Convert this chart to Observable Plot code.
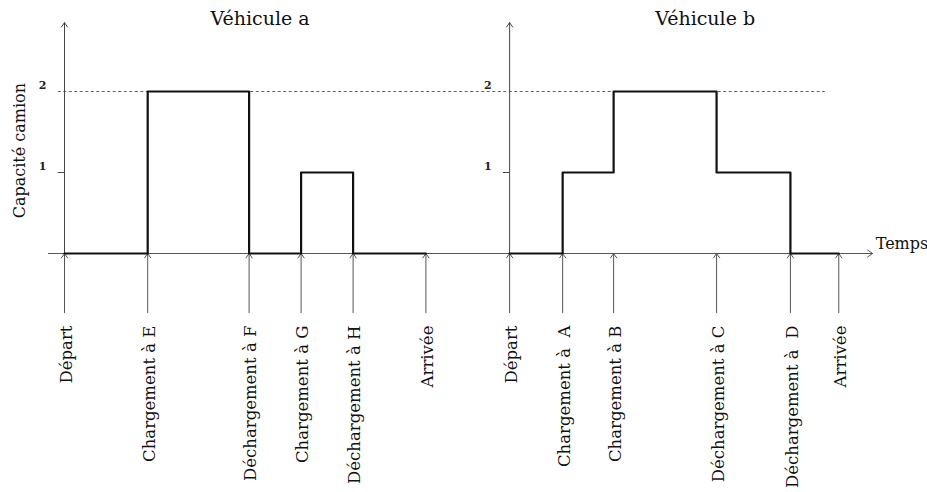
<!DOCTYPE html>
<html>
<head>
<meta charset="utf-8">
<script src="https://cdn.jsdelivr.net/npm/d3@7"></script>
<script src="https://cdn.jsdelivr.net/npm/@observablehq/plot@0.6"></script>
<style>
  html, body { margin: 0; padding: 0; background: #fff; }
  svg { display: block; }
</style>
</head>
<body>
<div id="chart"></div>
<script>
// ---- Data ----
const titles = ["Véhicule a", "Véhicule b"];
const vehANames = ["Départ", "Chargement à E", "Déchargement à F", "Chargement à G", "Déchargement à H", "Arrivée"];
const vehATimes = [0, 1.6, 3.55, 4.55, 5.55, 6.95];
const vehALoads = [0, 2, 0, 1, 0, 0];
const vehBNames = ["Départ", "Chargement à\u00a0 A", "Chargement à B", "Déchargement à C", "Déchargement à\u00a0 D", "Arrivée"];
const vehBTimes = [0, 1.02, 2.0, 3.98, 5.4, 6.33];
const vehBLoads = [0, 1, 2, 1, 0, 0];
const capacityTicks = [1, 2];
const capacityMax = 2;
const yLabel = "Capacité camion";
const xLabel = "Temps";

// ---- Layout constants (scale units) ----
const originB = 8.56;         // horizontal offset of the second diagram
const axisTop = 2.85;         // top of vertical axes
const eventTail = -0.73;      // start of event arrows (below baseline)
const labelTop = -0.89;       // top of rotated event labels
const xAxisStart = -0.31, xAxisEnd = 15.54;
const dashEnd = 14.63;

const vehicles = [
  {title: titles[0], origin: 0, names: vehANames, times: vehATimes, loads: vehALoads},
  {title: titles[1], origin: originB, names: vehBNames, times: vehBTimes, loads: vehBLoads}
];

const steps = vehicles.flatMap(v => v.times.map((t, i) => ({vehicle: v.title, x: v.origin + t, load: v.loads[i]})));
const events = vehicles.flatMap(v => v.times.map((t, i) => ({vehicle: v.title, x: v.origin + t, name: v.names[i]})));
const tickLabels = vehicles.flatMap(v => capacityTicks.map(k => ({x: v.origin, k})));

const font = "DejaVu Serif, serif";

const chart = Plot.plot({
  width: 927,
  height: 492,
  marginTop: 0, marginRight: 0, marginBottom: 0, marginLeft: 0,
  style: {fontFamily: font, background: "#fff", overflow: "visible"},
  x: {type: "linear", domain: [0, 1], range: [64, 116], axis: null},
  y: {type: "linear", domain: [0, 1], range: [253, 172], axis: null},
  marks: [
    // dashed capacity line
    Plot.ruleY([capacityMax], {x1: () => -0.12, x2: () => dashEnd, stroke: "#666", strokeWidth: 1, strokeDasharray: "3,2.5"}),
    // tick at 1
    Plot.ruleY(vehicles, {y: () => 1, x1: d => d.origin - 0.12, x2: d => d.origin, stroke: "#444", strokeWidth: 1}),
    // horizontal time axis
    Plot.arrow([xLabel], {x1: () => xAxisStart, x2: () => xAxisEnd, y1: () => 0, y2: () => 0, stroke: "#555", strokeWidth: 1, headLength: 9, headAngle: 70}),
    // vertical axes
    Plot.arrow(vehicles, {x1: d => d.origin, x2: d => d.origin, y1: () => 0, y2: () => axisTop, stroke: "#444", strokeWidth: 1, headLength: 8, headAngle: 70}),
    // event arrows
    Plot.arrow(events, {x1: "x", x2: "x", y1: () => eventTail, y2: () => 0, stroke: "#555", strokeWidth: 1, headLength: 8, headAngle: 70}),
    // load step lines
    Plot.line(steps, {x: "x", y: "load", z: "vehicle", curve: "step-after", stroke: "#111", strokeWidth: 2.2}),
    // event labels
    Plot.text(events, {x: "x", y: () => labelTop, text: "name", rotate: -90, textAnchor: "end", fontSize: 16.5, fill: "#111", dx: 2}),
    // tick labels
    Plot.text(tickLabels, {x: d => d.x - 0.42, y: "k", text: d => String(d.k), dy: -6, fontSize: 11, fontWeight: "bold", fill: "#222"}),
    // titles
    Plot.text(vehicles, {x: d => d.origin + 3.76, y: () => 2.9, text: "title", fontSize: 19, fill: "#111"}),
    // y label
    Plot.text([yLabel], {x: () => -0.85, y: () => 1.27, text: d => d, rotate: -90, fontSize: 16, fill: "#111"}),
    // x label
    Plot.text([xLabel], {x: () => 15.6, y: () => 0.12, text: d => d, textAnchor: "start", fontSize: 16, fill: "#111"})
  ]
});
document.getElementById("chart").appendChild(chart);
</script>
</body>
</html>
